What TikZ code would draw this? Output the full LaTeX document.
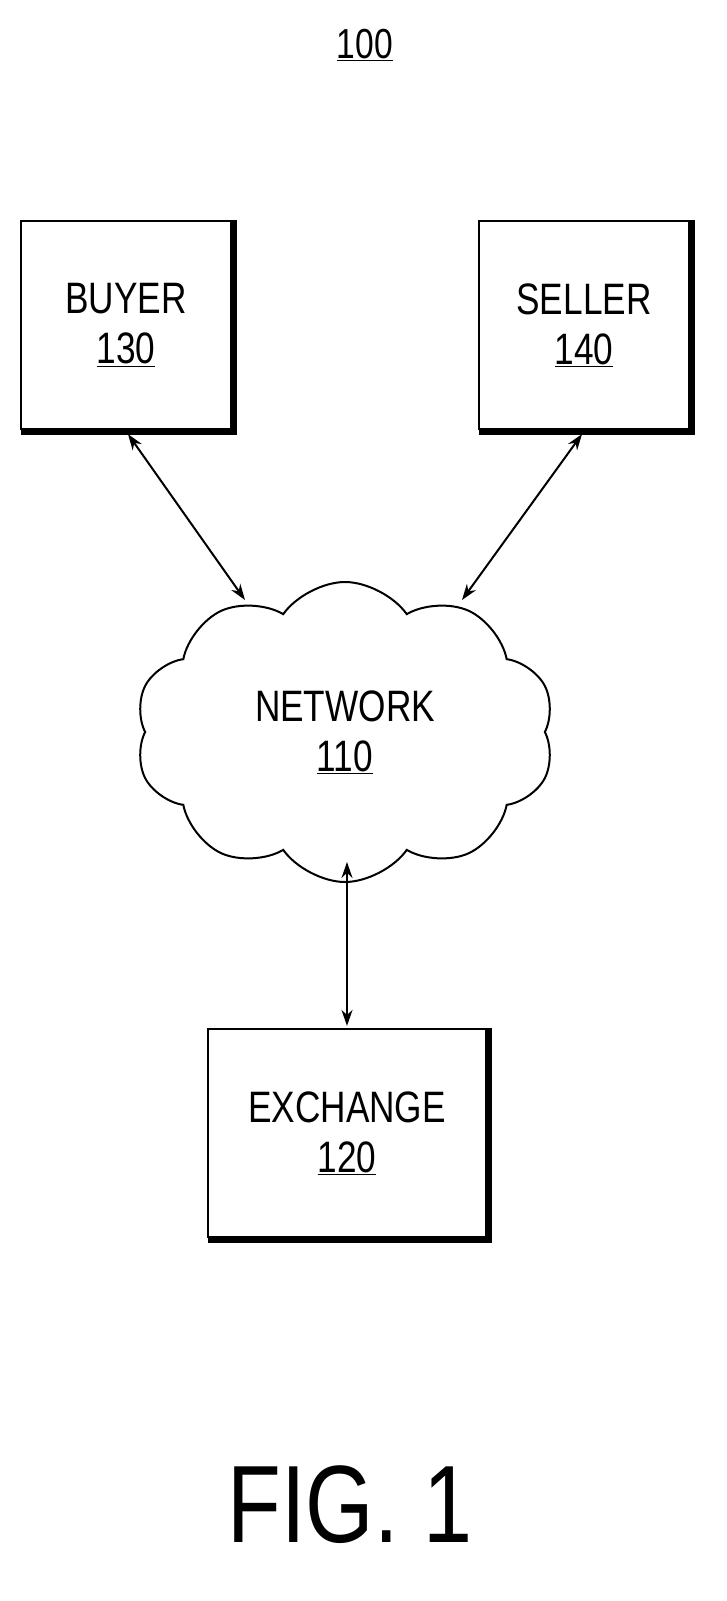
\documentclass[tikz,border=0pt]{standalone}
\usepackage{fontspec}
\setmainfont{Liberation Sans}[FakeStretch=0.8]
\usetikzlibrary{shapes.symbols,arrows.meta}
\begin{document}
\begin{tikzpicture}[x=1pt,y=-1pt,
  box/.style={draw,line width=2.2pt,minimum width=210pt,minimum height=208pt,align=center,font=\fontsize{44}{50}\selectfont,inner sep=0pt},
  shadow/.style={line width=5pt},
  conn/.style={line width=2pt,{Stealth[length=16pt,width=11pt]}-{Stealth[length=16pt,width=11pt]}}]
\useasboundingbox (0,0) rectangle (727,1601);
\node[font=\fontsize{42}{48}\selectfont] (t) at (365,45) {\underline{100}};
\node[box] (b) at (126,325) {BUYER\\\underline{130}};
\node[box] (s) at (584,325) {SELLER\\\underline{140}};
\node[box,minimum width=278pt] (e) at (347,1133) {EXCHANGE\\\underline{120}};
\foreach \n in {b,s,e}{\draw[shadow] ([xshift=1pt,yshift=-2pt]\n.south west) -- ([yshift=-2pt,xshift=2pt]\n.south east) -- ([xshift=2pt]\n.north east);}
\node[cloud,draw,line width=2pt,cloud puffs=10,cloud puff arc=110,aspect=1.5,minimum width=420pt,minimum height=300pt,align=center,font=\fontsize{44}{50}\selectfont] (n) at (345,732) {NETWORK\\\underline{110}};
\coordinate (n1) at (245,600);
\coordinate (n2) at (462,600);
\coordinate (n3) at (347,862);
\draw[conn] ([xshift=2pt,yshift=-4pt]b.south) -- (n1);
\draw[conn] ([xshift=-2pt,yshift=-4pt]s.south) -- (n2);
\draw[conn] (n3) -- ([yshift=2pt]e.north);
\node[font=\fontsize{110}{120}\selectfont] (f) at (350,1505) {FIG. 1};
\end{tikzpicture}
\end{document}
